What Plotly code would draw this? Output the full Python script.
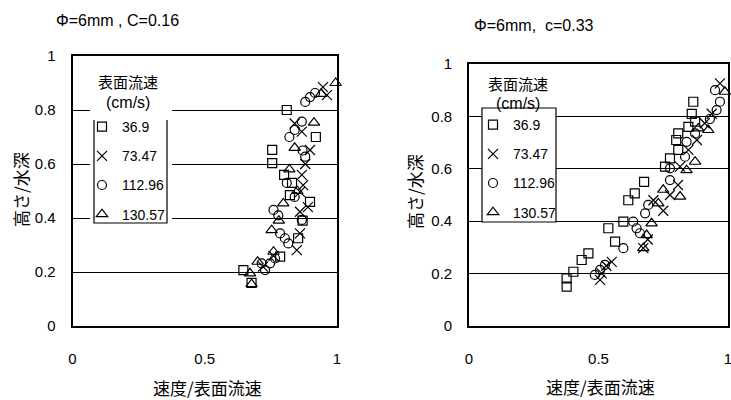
import plotly.graph_objects as go

# ---------------- data ----------------
series_names = ["36.9", "73.47", "112.96", "130.57"]

# Left chart: Φ=6mm, C=0.16
L_sq_x = [0.81, 0.92, 0.755, 0.755, 0.80, 0.83, 0.822, 0.898, 0.87, 0.853, 0.785, 0.646, 0.677]
L_sq_y = [0.80, 0.70, 0.652, 0.603, 0.56, 0.53, 0.485, 0.46, 0.39, 0.325, 0.257, 0.207, 0.16]
L_x_x = [0.947, 0.962, 0.84, 0.867, 0.898, 0.88, 0.867, 0.872, 0.86, 0.89, 0.86, 0.86, 0.848, 0.76, 0.72]
L_x_y = [0.885, 0.855, 0.75, 0.72, 0.652, 0.60, 0.56, 0.522, 0.497, 0.44, 0.423, 0.343, 0.281, 0.26, 0.22]
L_o_x = [0.917, 0.898, 0.88, 0.867, 0.84, 0.82, 0.87, 0.88, 0.81, 0.84, 0.76, 0.778, 0.867, 0.785,
         0.803, 0.816, 0.766, 0.747, 0.715, 0.728]
L_o_y = [0.863, 0.848, 0.83, 0.757, 0.726, 0.70, 0.65, 0.627, 0.53, 0.478, 0.43, 0.41, 0.393, 0.343,
         0.325, 0.306, 0.25, 0.232, 0.232, 0.207]
L_t_x = [0.995, 0.94, 0.913, 0.84, 0.82, 0.85, 0.797, 0.78, 0.753, 0.76, 0.70, 0.671, 0.677]
L_t_y = [0.90, 0.86, 0.753, 0.66, 0.58, 0.50, 0.454, 0.39, 0.355, 0.275, 0.238, 0.195, 0.155]

# Right chart: Φ=6mm, c=0.33
R_sq_x = [0.866, 0.86, 0.873, 0.847, 0.808, 0.80, 0.808, 0.776, 0.757, 0.676, 0.64, 0.615, 0.596,
          0.538, 0.564, 0.461, 0.435, 0.403, 0.377, 0.377]
R_sq_y = [0.856, 0.81, 0.78, 0.76, 0.735, 0.71, 0.672, 0.64, 0.608, 0.55, 0.506, 0.48, 0.398,
          0.373, 0.322, 0.277, 0.252, 0.207, 0.182, 0.15]
R_x_x = [0.969, 0.937, 0.91, 0.88, 0.847, 0.815, 0.807, 0.776, 0.75, 0.712, 0.69, 0.673, 0.551,
         0.53, 0.512, 0.506]
R_x_y = [0.926, 0.81, 0.774, 0.71, 0.672, 0.608, 0.538, 0.50, 0.44, 0.48, 0.33, 0.297, 0.245,
         0.23, 0.201, 0.176]
R_o_x = [0.95, 0.969, 0.956, 0.93, 0.873, 0.84, 0.834, 0.776, 0.776, 0.692, 0.68, 0.634, 0.647,
         0.66, 0.596, 0.525, 0.506, 0.486]
R_o_y = [0.90, 0.856, 0.824, 0.79, 0.735, 0.703, 0.646, 0.602, 0.557, 0.462, 0.43, 0.398, 0.373,
         0.354, 0.297, 0.233, 0.214, 0.195]
R_t_x = [0.988, 0.924, 0.885, 0.873, 0.84, 0.75, 0.815, 0.731, 0.705, 0.686, 0.673]
R_t_y = [0.894, 0.748, 0.754, 0.627, 0.595, 0.52, 0.494, 0.468, 0.392, 0.347, 0.297]

y_ticks = [0, 0.2, 0.4, 0.6, 0.8, 1]
y_tick_text = ["0", "0.2", "0.4", "0.6", "0.8", "1"]
x_ticks = [0, 0.5, 1]
x_tick_text = ["0", "0.5", "1"]

titles = ["Φ=6mm , C=0.16", "Φ=6mm,  c=0.33"]
x_title = "速度/表面流速"
y_title = "高さ/水深"
legend_title_1 = "表面流速"
legend_title_2 = "(cm/s)"

# ---------------- figure ----------------
W, H = 731, 400
LAT = "Liberation Sans, Arial, sans-serif"
CJK = "Noto Sans CJK JP, sans-serif"

def px(x):
    return x / W

def py(y):
    return 1 - y / H

symbols = ["square-open", "x-thin-open", "circle-open", "triangle-up-open"]
sizes = [9, 10, 9, 10]

fig = go.Figure()
left = [(L_sq_x, L_sq_y), (L_x_x, L_x_y), (L_o_x, L_o_y), (L_t_x, L_t_y)]
right = [(R_sq_x, R_sq_y), (R_x_x, R_x_y), (R_o_x, R_o_y), (R_t_x, R_t_y)]

for i, (xs, ys) in enumerate(left):
    fig.add_trace(go.Scatter(
        x=xs, y=ys, mode="markers", name=series_names[i], xaxis="x", yaxis="y",
        legend="legend", legendgroup="L%d" % i, cliponaxis=False,
        marker=dict(symbol=symbols[i], size=sizes[i], color="black",
                    line=dict(color="black", width=1.2))))
for i, (xs, ys) in enumerate(right):
    fig.add_trace(go.Scatter(
        x=xs, y=ys, mode="markers", name=series_names[i], xaxis="x2", yaxis="y2",
        legend="legend2", legendgroup="R%d" % i, cliponaxis=False,
        marker=dict(symbol=symbols[i], size=sizes[i], color="black",
                    line=dict(color="black", width=1.2))))

axis_common = dict(range=[0, 1], showline=True, mirror=True, linecolor="black",
                   linewidth=1.6, zeroline=False, ticks="", automargin=False,
                   ticklabeloverflow="allow",
                   tickfont=dict(family=LAT, size=15, color="black"))
xcommon = dict(axis_common, tickvals=x_ticks, ticktext=x_tick_text, showgrid=False,
               ticklabelstandoff=18)
ycommon = dict(axis_common, tickvals=y_ticks, ticktext=y_tick_text, showgrid=True,
               gridcolor="black", gridwidth=1, ticklabelstandoff=12)

legend_common = dict(bgcolor="rgba(0,0,0,0)", borderwidth=0,
                     font=dict(family=LAT, size=14, color="black"),
                     traceorder="grouped", tracegroupgap=8,
                     xanchor="left", yanchor="top", itemwidth=30)

fig.update_layout(
    width=W, height=H, margin=dict(l=0, r=0, t=0, b=0, autoexpand=False),
    paper_bgcolor="white", plot_bgcolor="white",
    xaxis=dict(xcommon, domain=[px(72.5), px(337)], anchor="y"),
    yaxis=dict(ycommon, domain=[py(326), py(56)], anchor="x"),
    xaxis2=dict(xcommon, domain=[px(469), px(728)], anchor="y2"),
    yaxis2=dict(ycommon, domain=[py(326), py(64)], anchor="x2"),
    legend=dict(legend_common, x=px(82), y=py(111)),
    legend2=dict(legend_common, x=px(473), y=py(109)),
    showlegend=True,
)

shapes = [
    # left legend: white background (title + items), then open-top box around items
    dict(type="rect", xref="paper", yref="paper", x0=px(90), x1=px(172), y0=py(223), y1=py(68),
         fillcolor="white", line=dict(width=0), layer="above"),
    dict(type="path", xref="paper", yref="paper",
         path="M %f,%f L %f,%f L %f,%f L %f,%f" % (px(94), py(120), px(94), py(223),
                                                   px(167), py(223), px(167), py(120)),
         line=dict(color="black", width=1.2), layer="above"),
    # right legend
    dict(type="rect", xref="paper", yref="paper", x0=px(482), x1=px(556), y0=py(222), y1=py(108),
         fillcolor="white", line=dict(color="black", width=1.2), layer="above"),
]
fig.update_layout(shapes=shapes)

ann = []
def add_text(text, x, y, size, family, angle=0):
    ann.append(dict(text=text, xref="paper", yref="paper", x=px(x), y=py(y),
                    xanchor="center", yanchor="middle", showarrow=False, textangle=angle,
                    font=dict(family=family, size=size, color="black")))

add_text(titles[0], 117, 20, 16, LAT)
add_text(titles[1], 534, 25, 16, LAT)
add_text(x_title, 207, 387, 17, CJK)
add_text(x_title, 600, 386, 17, CJK)
add_text(y_title, 20, 190, 17, CJK, -90)
add_text(y_title, 414, 192, 17, CJK, -90)
add_text(legend_title_1, 128, 81, 15, CJK)
add_text(legend_title_2, 128, 102, 16, LAT)
add_text(legend_title_1, 518, 83, 15, CJK)
add_text(legend_title_2, 518, 103, 16, LAT)
fig.update_layout(annotations=ann)

fig.write_html("out.html", config={"displayModeBar": False},
               post_script="document.body.style.margin='0px';")
